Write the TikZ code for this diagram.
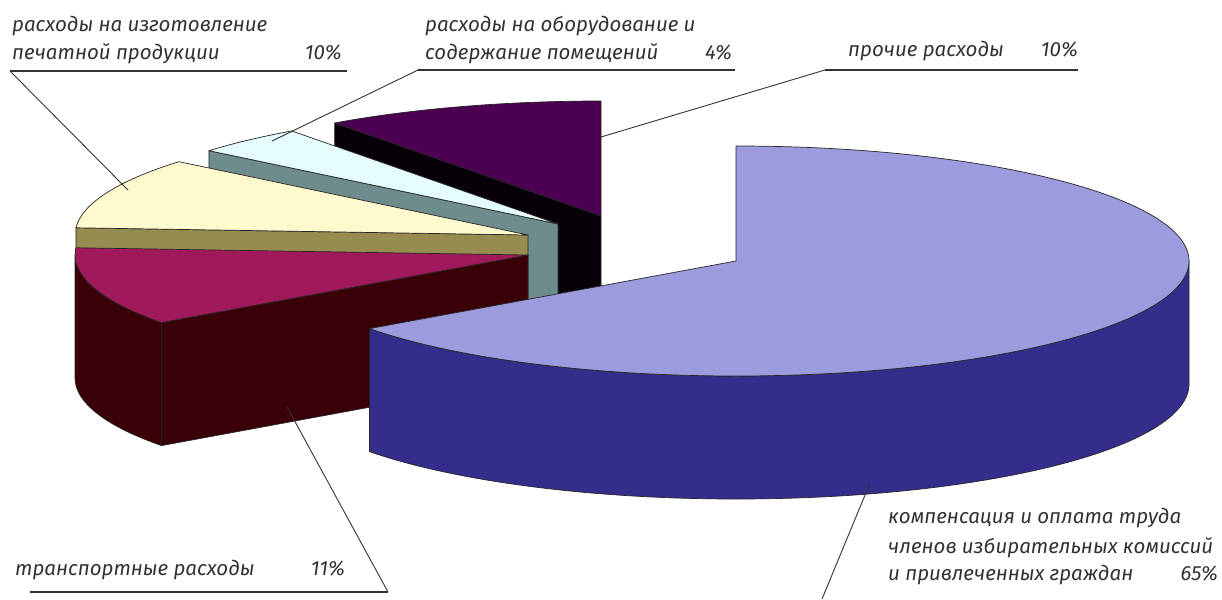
\documentclass[tikz,border=0pt]{standalone}
\usepackage{fontspec}
\setmainfont{Fira Sans}
\usetikzlibrary{calc}

\definecolor{cmpTop}{RGB}{155,155,222}
\definecolor{cmpSide}{RGB}{52,45,140}
\definecolor{othTop}{RGB}{75,0,82}
\definecolor{othSide}{RGB}{8,0,8}
\definecolor{equTop}{RGB}{228,252,252}
\definecolor{equSide}{RGB}{110,140,140}
\definecolor{prnTop}{RGB}{255,250,205}
\definecolor{prnSide}{RGB}{150,140,80}
\definecolor{trnTop}{RGB}{160,25,90}
\definecolor{trnSide}{RGB}{58,0,8}
\definecolor{txtGray}{RGB}{50,50,50}

\begin{document}
\begin{tikzpicture}
      [x = 1pt, y = 1pt,
      face/.style = {draw = black!85, line width = 0.7pt, line join = round},
      rim/.style = {x radius = 453, y radius = 115},
      lbl/.style = {
         anchor = base west,
         inner sep = 0pt,
         text = txtGray,
         font = \fontsize{20.5}{24}\selectfont\itshape
      },
      pct/.style = {lbl, anchor = base east},
      uline/.style = {draw = txtGray, line width = 1.6pt},
      leader/.style = {draw = black!80, line width = 0.9pt}]

      \useasboundingbox (0, 0) rectangle (1222, -599);

      % apex of every slice
      \coordinate (oth) at (601, -216);
      \coordinate (equ) at (558, -224);
      \coordinate (prn) at (528, -235);
      \coordinate (trn) at (528, -255);
      \coordinate (cmp) at (736, -261);

      % other expenses
      \filldraw[face, fill = othSide] (oth) -- ++(126:453 and 115) -- ++(0, -123) -- ($(oth) + (0, -123)$) -- cycle;
      \filldraw[face, fill = othTop] (oth) -- ++(90:453 and 115) arc[rim, start angle = 90, end angle = 126] -- cycle;

      % equipment and premises
      \filldraw[face, fill = equSide] (equ) -- ++(140.4:453 and 115) -- ++(0, -123) -- ($(equ) + (0, -123)$) -- cycle;
      \filldraw[face, fill = equTop] (equ) -- ++(126:453 and 115) arc[rim, start angle = 126, end angle = 140.4] -- cycle;

      % printing
      \filldraw[face, fill = prnSide] (prn) -- ++(176.4:453 and 115) -- ++(0, -123) -- ($(prn) + (0, -123)$) -- cycle;
      \filldraw[face, fill = prnTop] (prn) -- ++(140.4:453 and 115) arc[rim, start angle = 140.4, end angle = 176.4] -- cycle;

      % transport
      \filldraw[face, fill = trnSide] (trn) ++(180:453 and 115) arc[rim, start angle = 180, end angle = 216] -- ++(0, -123) arc[rim, start angle = 216, end angle = 180] -- cycle;
      \filldraw[face, fill = trnSide] (trn) -- ++(216:453 and 115) -- ++(0, -123) -- ($(trn) + (0, -123)$) -- cycle;
      \filldraw[face, fill = trnTop] (trn) -- ++(176.4:453 and 115) arc[rim, start angle = 176.4, end angle = 216] -- cycle;

      % compensation, pulled out
      \filldraw[face, fill = cmpSide] (cmp) ++(216:453 and 115) arc[rim, start angle = 216, end angle = 360] -- ++(0, -123) arc[rim, start angle = 360, end angle = 216] -- cycle;
      \filldraw[face, fill = cmpTop] (cmp) -- ++(90:453 and 115) arc[rim, start angle = 90, end angle = -144] -- cycle;

      % labels
      \node[lbl] (prn1) at (12, -32) {расходы на изготовление};
      \node[lbl] (prn2) at (12, -60) {печатной продукции};
      \node[pct] (prnP) at (342, -60) {10\%};
      \coordinate (prnL) at (10, -71);
      \coordinate (prnR) at (347, -71);
      \coordinate (prnIn) at (128, -190);
      \draw[uline] (prnL) -- (prnR);
      \draw[leader] (prnL) -- (prnIn);

      \node[lbl] (equ1) at (425, -32) {расходы на оборудование и};
      \node[lbl] (equ2) at (425, -60) {содержание помещений};
      \node[pct] (equP) at (732, -60) {4\%};
      \coordinate (equL) at (418, -70);
      \coordinate (equR) at (735, -70);
      \coordinate (equIn) at (272, -141);
      \draw[uline] (equL) -- (equR);
      \draw[leader] (equL) -- (equIn);

      \node[lbl] (oth1) at (848, -57) {прочие расходы};
      \node[pct] (othP) at (1078, -57) {10\%};
      \coordinate (othL) at (825, -70);
      \coordinate (othR) at (1078, -70);
      \coordinate (othIn) at (601, -137);
      \draw[uline] (othL) -- (othR);
      \draw[leader] (othL) -- (othIn);

      \node[lbl] (trn1) at (15, -575) {транспортные расходы};
      \node[pct] (trnP) at (345, -575) {11\%};
      \coordinate (trnL) at (30, -592);
      \coordinate (trnR) at (388, -592);
      \coordinate (trnIn) at (287, -407);
      \draw[uline] (trnL) -- (trnR);
      \draw[leader] (trnR) -- (trnIn);

      \node[lbl] (cmp1) at (888, -523) {компенсация и оплата труда};
      \node[lbl] (cmp2) at (888, -553) {членов избирательных комиссий};
      \node[lbl] (cmp3) at (888, -580) {и привлеченных граждан};
      \node[pct] (cmpP) at (1218, -580) {65\%};
      \coordinate (cmpL) at (822, -599);
      \coordinate (cmpIn) at (870, -483);
      \draw[leader] (cmpL) -- (cmpIn);

   \end{tikzpicture}
\end{document}
